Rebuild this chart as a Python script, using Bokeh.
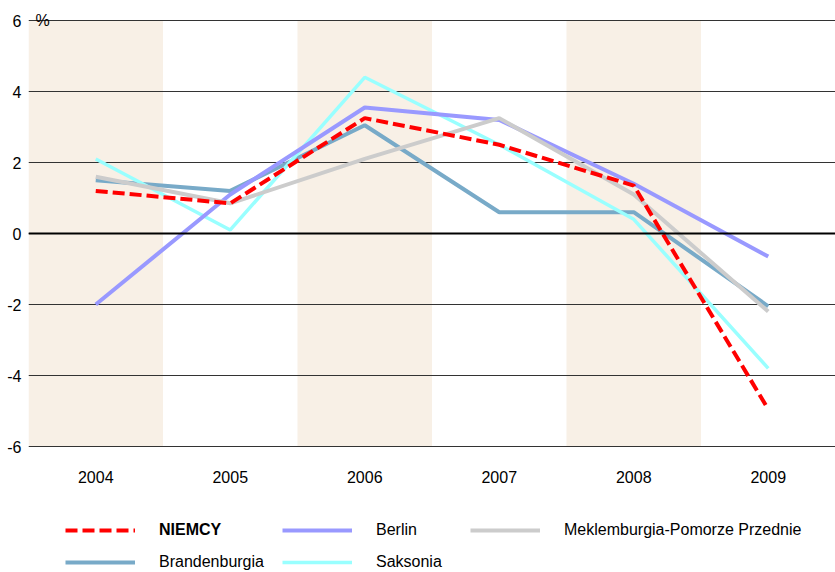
from bokeh.plotting import figure
from bokeh.models import (ColumnDataSource, FixedTicker, Legend, LegendItem, Label, Span,
                          CustomJSTickFormatter)
from bokeh.core.properties import value
from bokeh.embed import file_html
from bokeh.resources import INLINE

# ---- data ----
years = [2004, 2005, 2006, 2007, 2008, 2009]
year_labels = ["2004", "2005", "2006", "2007", "2008", "2009"]
niemcy = [1.2, 0.85, 3.25, 2.5, 1.35, -4.95]
berlin = [-2.0, 1.1, 3.55, 3.2, 1.4, -0.65]
meklemburgia = [1.6, 0.85, 2.1, 3.25, 1.1, -2.2]
brandenburgia = [1.5, 1.2, 3.05, 0.6, 0.6, -2.05]
saksonia = [2.1, 0.1, 4.4, 2.5, 0.4, -3.8]
band_years = [2004, 2006, 2008]
y_ticks = [-6, -4, -2, 0, 2, 4, 6]

FONT = "Liberation Sans"
W, H = 835, 572
TOP_PX, BOTTOM_PX = 20, 446          # screen rows of the 6 and -6 lines
ppu = (BOTTOM_PX - TOP_PX) / (y_ticks[-1] - y_ticks[0])
y_top = y_ticks[-1] + TOP_PX / ppu
y_bot = y_ticks[0] - (H - BOTTOM_PX) / ppu

p = figure(width=W, height=H, output_backend="svg", toolbar_location=None,
           x_range=(2003.5, 2009.5), y_range=(y_bot, y_top),
           min_border_left=28, min_border_right=0, min_border_top=0,
           min_border_bottom=0)
p.outline_line_color = None
p.background_fill_color = "white"

# shaded bands
band_src = ColumnDataSource(dict(
    left=[y - 0.5 for y in band_years], right=[y + 0.5 for y in band_years],
    bottom=[y_ticks[0]] * len(band_years), top=[y_ticks[-1]] * len(band_years)))
p.quad(left="left", right="right", bottom="bottom", top="top", source=band_src,
       fill_color="#F8F0E6", line_color=None, level="image")

# grid
p.xgrid.grid_line_color = None
p.ygrid.grid_line_color = "#333333"
p.ygrid.grid_line_width = 1
p.ygrid.ticker = FixedTicker(ticks=y_ticks)
p.add_layout(Span(location=0, dimension="width", line_color="black", line_width=2))

# axes
p.xaxis.visible = False
yax = p.yaxis[0]
yax.ticker = FixedTicker(ticks=y_ticks)
yax.formatter = CustomJSTickFormatter(code="return tick.toFixed(0);")
yax.axis_line_color = None
yax.major_tick_line_color = None
yax.minor_tick_line_color = None
yax.major_tick_out = 0
yax.major_tick_in = 0
yax.major_label_text_font = FONT
yax.major_label_text_font_size = "16px"
yax.major_label_text_color = "black"
yax.major_label_standoff = 7

# year labels under the plot
p.text(x=years, y=[y_ticks[0]] * len(years), text=year_labels, y_offset=30,
       text_font=value(FONT), text_font_size="16px", text_align="center",
       text_baseline="middle", text_color="black")

p.add_layout(Label(x=2003.5, y=6, x_offset=7, text="%", text_font=FONT,
                   text_font_size="16px", text_baseline="middle", text_color="black"))

# lines
r_bra = p.line(years, brandenburgia, line_color="#78AAC8", line_width=4)
r_sak = p.line(years, saksonia, line_color="#99FFFF", line_width=3.5)
r_ber = p.line(years, berlin, line_color="#9999FF", line_width=4)
r_mek = p.line(years, meklemburgia, line_color="#CCCCCC", line_width=4)
r_nie = p.line(years, niemcy, line_color="#FF0000", line_width=4, line_dash="12 5")

def add_legend(label, renderer, x, y, bold=False):
    lg = Legend(items=[LegendItem(label=label, renderers=[renderer])],
                location=(x, y), orientation="vertical",
                glyph_width=70, glyph_height=20, label_height=20,
                label_standoff=24, padding=0, margin=0, spacing=0,
                border_line_color=None, background_fill_alpha=0,
                label_text_font=FONT, label_text_font_size="16px",
                label_text_font_style="bold" if bold else "normal",
                label_text_color="black")
    p.add_layout(lg, "center")

add_legend("NIEMCY", r_nie, 37, 32, bold=True)
add_legend("Berlin", r_ber, 254, 32)
add_legend("Meklemburgia-Pomorze Przednie", r_mek, 442, 32)
add_legend("Brandenburgia", r_bra, 37, 0)
add_legend("Saksonia", r_sak, 254, 0)

open("out.html", "w").write(file_html(p, INLINE))
